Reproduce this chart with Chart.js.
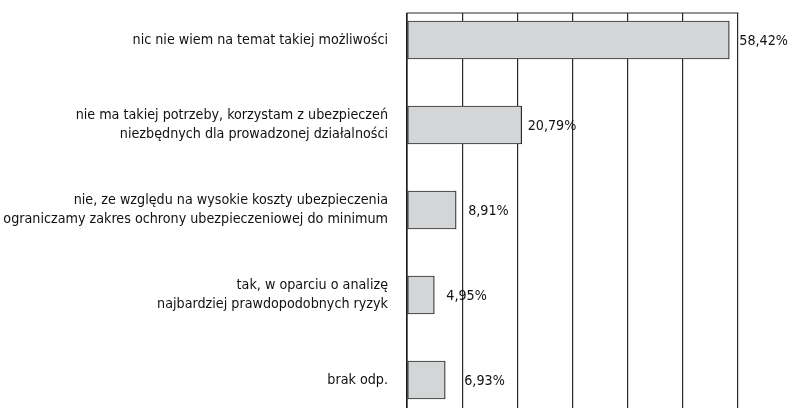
<!DOCTYPE html>
<html>
<head>
<meta charset="utf-8">
<script src="https://cdn.jsdelivr.net/npm/chart.js@4"></script>
<style>
  html, body { margin: 0; padding: 0; background: #fff; overflow: hidden; width: 791px; height: 408px; }
  #wrap { position: absolute; left: 0; top: -10px; width: 791px; height: 440px; }
</style>
</head>
<body>
<div id="wrap"><canvas id="c"></canvas></div>
<script>
const categories = [
  ["nic nie wiem na temat takiej możliwości"],
  ["nie ma takiej potrzeby, korzystam z ubezpieczeń", "niezbędnych dla prowadzonej działalności"],
  ["nie, ze względu na wysokie koszty ubezpieczenia", "ograniczamy zakres ochrony ubezpieczeniowej do minimum"],
  ["tak, w oparciu o analizę", "najbardziej prawdopodobnych ryzyk"],
  ["brak odp."]
];
const values = [58.42, 20.79, 8.91, 4.95, 6.93];
const valueLabels = ["58,42%", "20,79%", "8,91%", "4,95%", "6,93%"];
const xTicks = [0, 10, 20, 30, 40, 50, 60];

const FONT = "'DejaVu Sans Condensed', 'DejaVu Sans', sans-serif";
const FONT_SIZE = 14.2;
const TEXT_COLOR = '#111';
const labelOffsets = [10, 6, 12, 12, 19];

const topFrame = {
  id: 'topFrame',
  beforeDatasetsDraw(chart) {
    const { ctx, chartArea } = chart;
    const lineY = chartArea.top + 15.5;
    ctx.save();
    ctx.fillStyle = '#fff';
    ctx.fillRect(chartArea.left - 1, 0, chartArea.right - chartArea.left + 3, lineY);
    ctx.strokeStyle = '#2a2a2a';
    ctx.lineWidth = 1.2;
    ctx.beginPath();
    ctx.moveTo(chartArea.left - 0.5, lineY);
    ctx.lineTo(chartArea.right + 0.5, lineY);
    ctx.stroke();
    ctx.restore();
  }
};

const valueLabelsPlugin = {
  id: 'valueLabelsPlugin',
  afterDatasetsDraw(chart) {
    const { ctx } = chart;
    const meta = chart.getDatasetMeta(0);
    ctx.save();
    ctx.font = FONT_SIZE + "px " + FONT;
    ctx.fillStyle = TEXT_COLOR;
    ctx.textAlign = 'left';
    ctx.textBaseline = 'middle';
    meta.data.forEach((bar, i) => {
      ctx.fillText(valueLabels[i], bar.x + labelOffsets[i], bar.y + 1);
    });
    ctx.restore();
  }
};

new Chart(document.getElementById('c'), {
  type: 'bar',
  data: {
    labels: categories,
    datasets: [{
      data: values,
      backgroundColor: '#d4d5d7',
      borderColor: '#2a2a2a',
      borderWidth: 1.2,
      borderSkipped: false,
      barThickness: 38
    }]
  },
  options: {
    indexAxis: 'y',
    responsive: true,
    maintainAspectRatio: false,
    animation: false,
    layout: { padding: { top: 7.5, bottom: 7.5, left: 0, right: 53 } },
    plugins: { legend: { display: false }, tooltip: { enabled: false } },
    scales: {
      x: {
        min: 0, max: 60,
        afterBuildTicks(scale) { scale.ticks = xTicks.map(v => ({ value: v })); },
        afterFit(scale) { scale.height = 0; scale.paddingLeft = 0; scale.paddingRight = 0; },
        ticks: { display: false },
        border: { display: false },
        grid: { color: '#2a2a2a', lineWidth: 1.2, drawTicks: false }
      },
      y: {
        afterFit(scale) { scale.width = 407; scale.paddingTop = 0; scale.paddingBottom = 0; },
        ticks: {
          color: TEXT_COLOR,
          padding: 19,
          font: { family: FONT, size: FONT_SIZE, lineHeight: 1.35 }
        },
        border: { display: true, color: '#1a1a1a', width: 1.6 },
        grid: { display: false, drawTicks: false }
      }
    }
  },
  plugins: [topFrame, valueLabelsPlugin]
});
</script>
</body>
</html>
